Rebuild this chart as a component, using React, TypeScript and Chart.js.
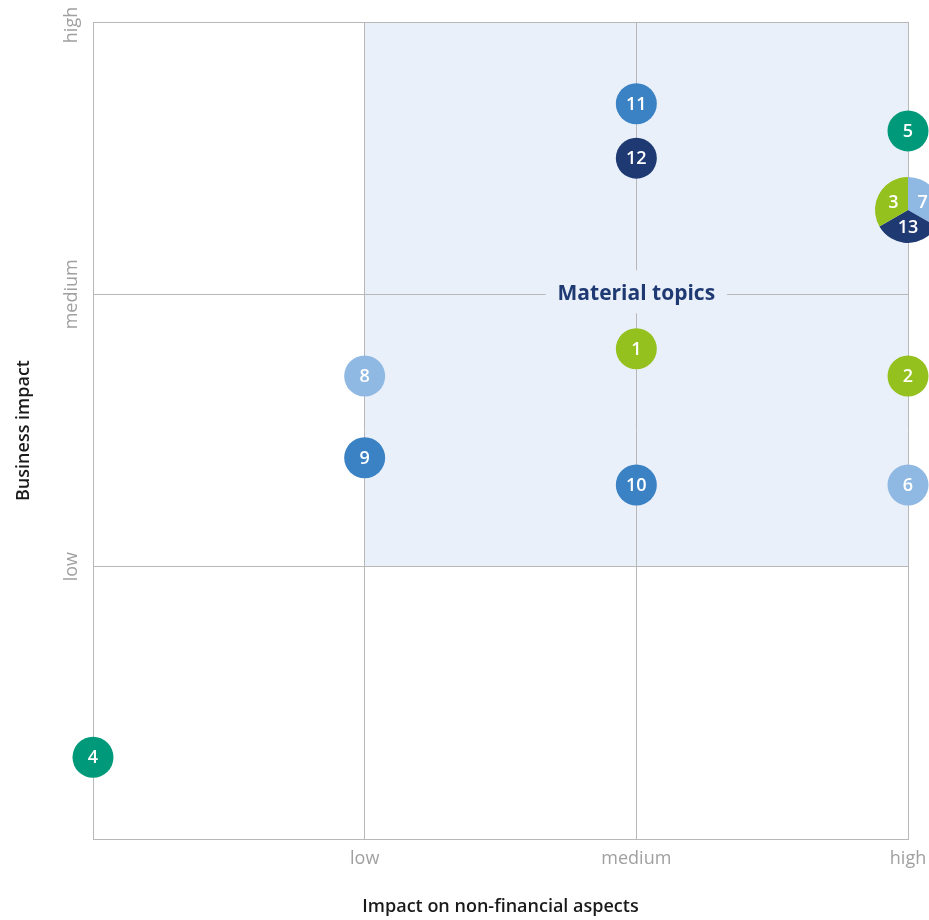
import React, { useEffect, useRef } from 'react';
import { Chart, registerables } from 'chart.js';

Chart.register(...registerables);

// ---- data ----
const axisTickValues = [0, 1, 2, 3];
const xTickLabels = ['', 'low', 'medium', 'high'];
const yTickLabels = ['', 'low', 'medium', 'high'];
const xAxisTitle = 'Impact on non-financial aspects';
const yAxisTitle = 'Business impact';

const topicNumbers = ['1', '2', '4', '5', '6', '8', '9', '10', '11', '12'];
const nonFinancialImpact = [2, 3, 0, 3, 3, 1, 1, 2, 2, 2];
const businessImpact = [1.8, 1.7, 0.3, 2.6, 1.3, 1.7, 1.4, 1.3, 2.7, 2.5];
const topicGroups = ['lime', 'lime', 'teal', 'teal', 'light', 'light', 'mid', 'mid', 'mid', 'navy'];

// topics sharing one position (drawn as a split circle)
const sharedTopics = ['3', '7', '13'];
const sharedGroups = ['lime', 'light', 'navy'];
const sharedNonFinancial = 3;
const sharedBusiness = 2.31;

// material region (axis units) and its label
const materialXRange = [1, 3];
const materialYRange = [1, 3];
const materialLabel = 'Material topics';
const materialLabelPos = [2, 2];

// ---- styles ----
const groupColors: Record<string, string> = {
  lime: '#95c11f',
  teal: '#009a7a',
  light: '#8fb9e3',
  mid: '#3b82c4',
  navy: '#1f3a72',
};
const SHADE = '#e9f0fa';
const GRID = '#b8b8b8';
const TICK = '#a0a0a0';
const NAVY_TEXT = '#1f3a72';
const FONT = '"Open Sans", "DejaVu Sans", sans-serif';
const R = 20.5;

const overlayPlugin = {
  id: 'overlay',
  beforeDraw(chart: any) {
    const { ctx, scales } = chart;
    const x = scales.x, y = scales.y;
    const x0 = x.getPixelForValue(materialXRange[0]);
    const x1 = x.getPixelForValue(materialXRange[1]);
    const y0 = y.getPixelForValue(materialYRange[1]);
    const y1 = y.getPixelForValue(materialYRange[0]);
    ctx.save();
    ctx.fillStyle = SHADE;
    ctx.fillRect(x0, y0, x1 - x0, y1 - y0);
    ctx.restore();
  },
  afterDatasetsDraw(chart: any) {
    const { ctx, scales, chartArea } = chart;
    const x = scales.x, y = scales.y;
    ctx.save();

    // Material topics label box
    const lx = x.getPixelForValue(materialLabelPos[0]);
    const ly = y.getPixelForValue(materialLabelPos[1]);
    ctx.font = `700 21px ${FONT}`;
    const tw = ctx.measureText(materialLabel).width;
    ctx.fillStyle = SHADE;
    ctx.fillRect(lx - tw / 2 - 12, ly - 24, tw + 24, 43);
    ctx.fillStyle = NAVY_TEXT;
    ctx.textAlign = 'center';
    ctx.textBaseline = 'middle';
    ctx.fillText(materialLabel, lx, ly);

    // shared split circle
    const cx = x.getPixelForValue(sharedNonFinancial);
    const cy = y.getPixelForValue(sharedBusiness);
    const pr = 33;
    const n = sharedTopics.length;
    const order = [1, 2, 0]; // clockwise from top: light, navy, lime
    for (let i = 0; i < n; i++) {
      const a0 = -Math.PI / 2 + (i * 2 * Math.PI) / n;
      const a1 = a0 + (2 * Math.PI) / n;
      ctx.beginPath();
      ctx.moveTo(cx, cy);
      ctx.arc(cx, cy, pr, a0, a1);
      ctx.closePath();
      ctx.fillStyle = groupColors[sharedGroups[order[i]]];
      ctx.fill();
    }
    ctx.font = `600 18px ${FONT}`;
    ctx.fillStyle = '#ffffff';
    ctx.textAlign = 'center';
    ctx.textBaseline = 'middle';
    const angles = [300, 60, 180];
    for (let i = 0; i < n; i++) {
      const th = (angles[i] * Math.PI) / 180;
      const rr = 17;
      ctx.fillText(sharedTopics[i], cx + rr * Math.sin(th), cy - rr * Math.cos(th) + 1);
    }

    // point numbers
    const meta = chart.getDatasetMeta(0);
    meta.data.forEach((pt: any, i: number) => {
      ctx.fillText(topicNumbers[i], pt.x, pt.y + 1);
    });

    // tick labels
    ctx.font = `400 18px ${FONT}`;
    ctx.fillStyle = TICK;
    axisTickValues.forEach((v, i) => {
      if (xTickLabels[i]) {
        ctx.textAlign = 'center';
        ctx.textBaseline = 'middle';
        ctx.fillText(xTickLabels[i], x.getPixelForValue(v), chartArea.bottom + 20);
      }
      if (yTickLabels[i]) {
        ctx.save();
        const py = Math.max(y.getPixelForValue(v), chartArea.top + 3);
        ctx.translate(chartArea.left - 21, py);
        ctx.rotate(-Math.PI / 2);
        ctx.textAlign = 'center';
        ctx.textBaseline = 'middle';
        ctx.fillText(yTickLabels[i], 0, 0);
        ctx.restore();
      }
    });

    // axis titles
    ctx.font = `600 18px ${FONT}`;
    ctx.fillStyle = '#1a1a1a';
    ctx.textAlign = 'center';
    ctx.textBaseline = 'middle';
    ctx.fillText(xAxisTitle, (chartArea.left + chartArea.right) / 2, chartArea.bottom + 68);
    ctx.save();
    ctx.translate(chartArea.left - 69, (chartArea.top + chartArea.bottom) / 2);
    ctx.rotate(-Math.PI / 2);
    ctx.fillText(yAxisTitle, 0, 0);
    ctx.restore();

    ctx.restore();
  },
};

export default function App() {
  const ref = useRef<HTMLCanvasElement>(null);
  useEffect(() => {
    if (!ref.current) return;
    const colors = topicGroups.map((g) => groupColors[g]);
    const chart = new Chart(ref.current, {
      type: 'scatter',
      data: {
        datasets: [
          {
            label: 'Topics',
            data: nonFinancialImpact.map((v, i) => ({ x: v, y: businessImpact[i] })),
            pointRadius: R,
            pointHoverRadius: R,
            pointBackgroundColor: colors,
            pointHoverBackgroundColor: colors,
            pointBorderWidth: 0,
            pointHoverBorderWidth: 0,
            clip: false as any,
          },
        ],
      },
      options: {
        responsive: true,
        maintainAspectRatio: false,
        animation: false,
        events: [],
        layout: { padding: { top: 22, right: 21, left: 0, bottom: 0 } },
        plugins: { legend: { display: false }, tooltip: { enabled: false } },
        scales: {
          x: {
            type: 'linear',
            min: 0,
            max: 3,
            ticks: { display: false, stepSize: 1 },
            grid: { color: GRID, lineWidth: 1, drawTicks: false },
            border: { color: GRID },
            afterFit: (s: any) => { s.height = 81; },
          },
          y: {
            type: 'linear',
            min: 0,
            max: 3,
            ticks: { display: false, stepSize: 1 },
            grid: { color: GRID, lineWidth: 1, drawTicks: false },
            border: { color: GRID },
            afterFit: (s: any) => { s.width = 93; },
          },
        },
      },
      plugins: [overlayPlugin],
    });
    return () => chart.destroy();
  }, []);
  return (
    <div style={{ position: 'absolute', left: 0, top: 0, width: 929, height: 920, background: '#fff' }}>
      <canvas ref={ref} />
    </div>
  );
}
